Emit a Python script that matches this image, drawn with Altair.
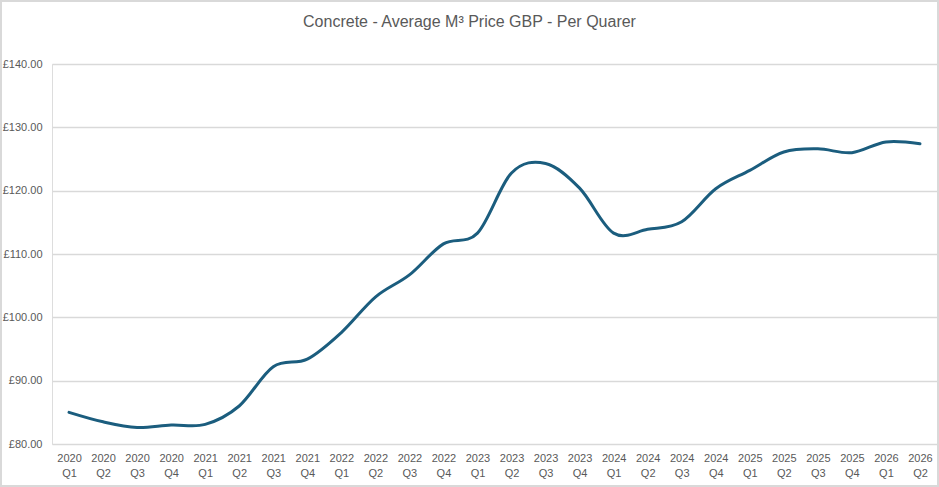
import altair as alt
import pandas as pd

# Quarterly average concrete price per cubic metre (GBP)
quarters = [
    "2020 Q1", "2020 Q2", "2020 Q3", "2020 Q4",
    "2021 Q1", "2021 Q2", "2021 Q3", "2021 Q4",
    "2022 Q1", "2022 Q2", "2022 Q3", "2022 Q4",
    "2023 Q1", "2023 Q2", "2023 Q3", "2023 Q4",
    "2024 Q1", "2024 Q2", "2024 Q3", "2024 Q4",
    "2025 Q1", "2025 Q2", "2025 Q3", "2025 Q4",
    "2026 Q1", "2026 Q2",
]
prices = [
    85.0, 83.5, 82.6, 83.0,
    83.1, 86.0, 92.2, 93.4,
    97.6, 103.2, 106.7, 111.6,
    113.3, 122.8, 124.3, 120.4,
    113.3, 113.9, 115.1, 120.3,
    123.2, 126.1, 126.6, 126.0,
    127.7, 127.4,
]
y_ticks = [80, 90, 100, 110, 120, 130, 140]
title_text = "Concrete - Average M³ Price GBP - Per Quarer"

df = pd.DataFrame({"quarter": quarters, "price": prices})

FONT = "Liberation Sans Narrow, Liberation Sans, Arial, sans-serif"
GREY_TEXT = "#595959"
GRID = "#d9d9d9"
LINE = "#1b5d7e"

W, H = 885, 380
PAD_L, PAD_T, PAD_R, PAD_B = 52, 64, 2, 43

line = alt.Chart(df).mark_line(
    interpolate="cardinal", color=LINE, strokeWidth=3, strokeCap="round"
).encode(
    x=alt.X(
        "quarter:N",
        sort=quarters,
        scale=alt.Scale(padding=0.5),
        axis=alt.Axis(
            title=None,
            labelAngle=0,
            labelExpr="split(datum.label, ' ')",
            labelFont=FONT,
            labelFontSize=11,
            labelColor=GREY_TEXT,
            labelLineHeight=15,
            labelPadding=8,
            ticks=False,
            domain=False,
            grid=False,
        ),
    ),
    y=alt.Y(
        "price:Q",
        scale=alt.Scale(domain=[80, 140], nice=False, zero=False),
        axis=alt.Axis(
            title=None,
            values=y_ticks,
            labelExpr="'£' + format(datum.value, '.2f')",
            labelFont=FONT,
            labelFontSize=11,
            labelColor=GREY_TEXT,
            labelPadding=10,
            ticks=False,
            domain=False,
            grid=True,
            gridColor=GRID,
            gridWidth=1.3,
        ),
    ),
)

one_row = pd.DataFrame({"label": [title_text]})

# Chart title, centred over the full canvas
title = alt.Chart(one_row).mark_text(
    font=FONT, fontSize=16, color=GREY_TEXT, align="center", baseline="alphabetic"
).encode(
    text="label:N",
    x=alt.value((W + PAD_L + PAD_R) / 2 - PAD_L),
    y=alt.value(27 - PAD_T),
)

# Outer frame around the whole chart
frame = alt.Chart(one_row).mark_rect(
    fill=None, stroke=GRID, strokeWidth=2
).encode(
    x=alt.value(-PAD_L + 1),
    x2=alt.value(W + PAD_R - 1),
    y=alt.value(-PAD_T + 1),
    y2=alt.value(H + PAD_B - 1),
)

chart = (
    alt.layer(line, title, frame)
    .properties(
        width=W,
        height=H,
        autosize=alt.AutoSizeParams(type="none"),
        padding={"left": PAD_L, "top": PAD_T, "right": PAD_R, "bottom": PAD_B},
    )
    .configure_view(stroke=None)
    .configure(background="white")
)

chart.save("out.html", embed_options={"renderer": "svg", "actions": False})
